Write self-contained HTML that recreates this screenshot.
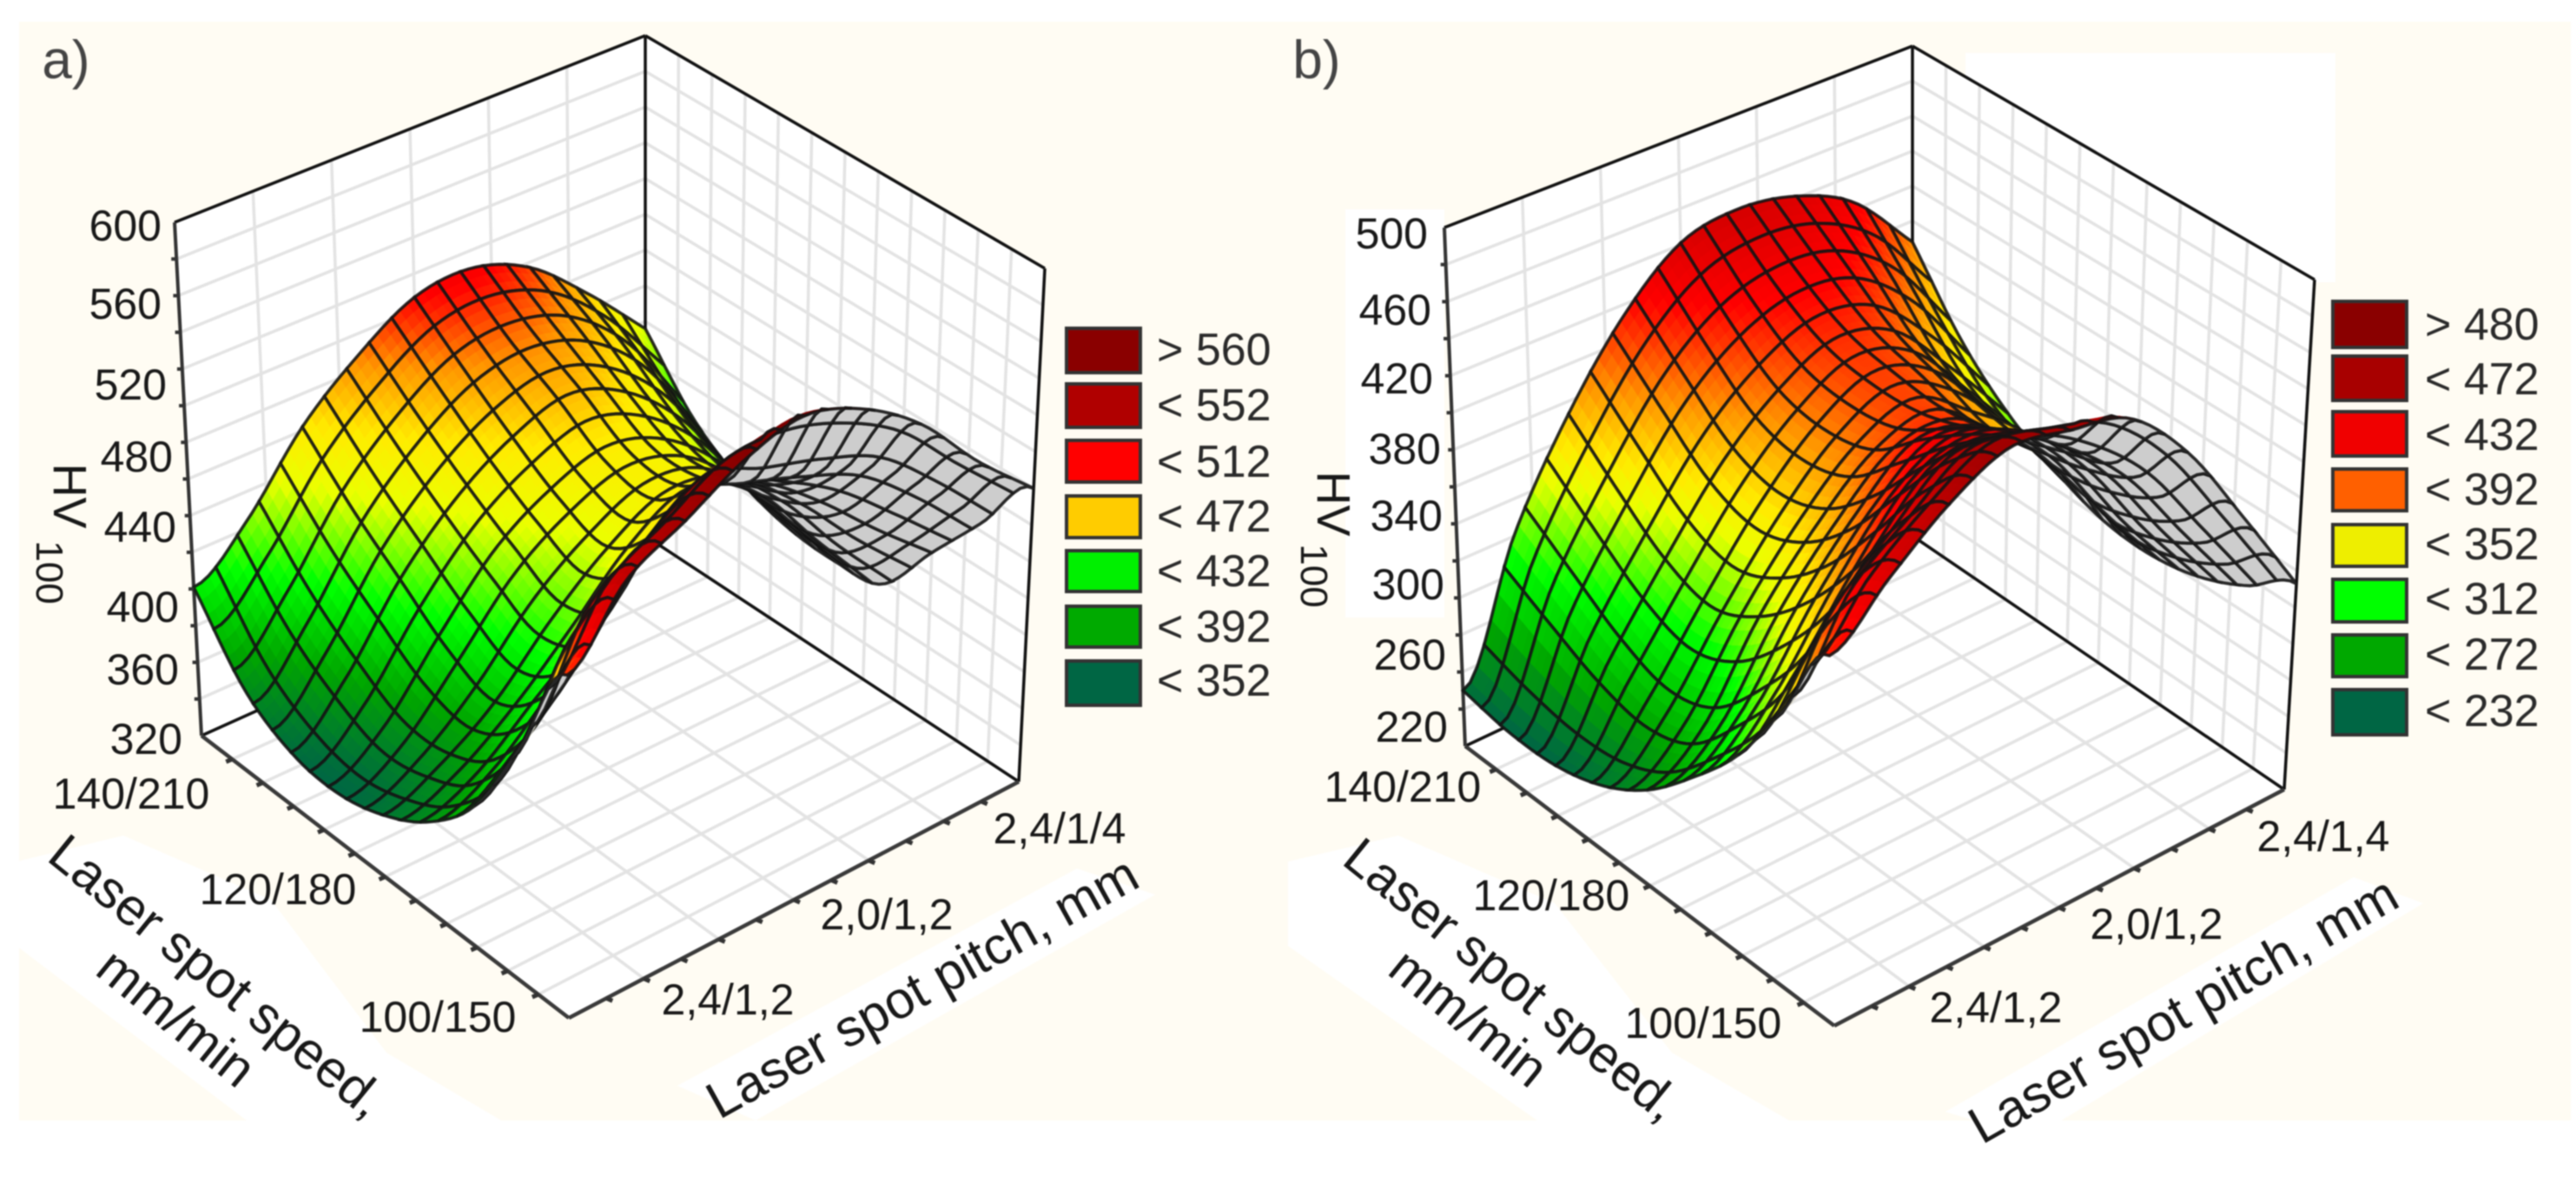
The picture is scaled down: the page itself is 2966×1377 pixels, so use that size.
<!DOCTYPE html>
<html>
<head>
<meta charset="utf-8">
<title>HV100 response surfaces</title>
<style>
html,body{margin:0;padding:0;background:#fff;width:2966px;height:1377px;overflow:hidden}
svg{display:block;filter:blur(0.9px)}
text{font-family:"Liberation Sans",sans-serif;fill:#181818}
.tick{font-size:50px}
.leg{font-size:52px;fill:#2a2a2a}
.title{font-size:60px;text-anchor:middle}
.sw{stroke:#333;stroke-width:4}
</style>
</head>
<body>
<svg xmlns="http://www.w3.org/2000/svg" width="2966" height="1377" viewBox="0 0 2966 1377">
  <g>
    <rect x="22" y="25" width="2938" height="1265" fill="#fffcf3"/>
    <polygon points="19,992 142,962 312,1036 445,1212 577,1290 284,1290 19,1089" fill="#fff"/>
    <polygon points="780,1250 1240,1000 1330,1030 870,1290" fill="#fff"/>
    <polygon points="1483,992 1610,962 1790,1040 1925,1212 2060,1290 1770,1290 1483,1089" fill="#fff"/>
    <polygon points="2240,1280 2710,1010 2790,1040 2340,1310" fill="#fff"/>
    <rect x="1549" y="241" width="114" height="470" fill="#fff"/>
    <rect x="2263" y="61" width="426" height="264" fill="#fff"/>
  </g>
  <g id="plot-a"></g>
  <g id="plot-b"></g>

  <g>
    <text x="76" y="90" style="font-size:62px;fill:#444" text-anchor="middle">a)</text>
    <g class="tick" text-anchor="end">
      <text x="186" y="277">600</text>
      <text x="186" y="367">560</text>
      <text x="192" y="460">520</text>
      <text x="199" y="543">480</text>
      <text x="203" y="624">440</text>
      <text x="206" y="716">400</text>
      <text x="206" y="788">360</text>
      <text x="210" y="868">320</text>
    </g>
    <g class="tick" text-anchor="middle">
      <text x="151" y="931">140/210</text>
      <text x="320" y="1041">120/180</text>
      <text x="504" y="1188">100/150</text>
      <text x="838" y="1168">2,4/1,2</text>
      <text x="1021" y="1070">2,0/1,2</text>
      <text x="1220" y="971">2,4/1/4</text>
    </g>
    <text class="title" transform="translate(250,1124) rotate(39)" y="20">Laser spot speed,</text>
    <text class="title" transform="translate(203,1172) rotate(39)" y="20">mm/min</text>
    <text class="title" transform="translate(1062,1137) rotate(-29)" y="20">Laser spot pitch, mm</text>
    <text transform="translate(62,571) rotate(90)" text-anchor="middle" style="font-size:54px">HV</text>
    <text transform="translate(42,659) rotate(90)" text-anchor="middle" style="font-size:44px">100</text>
  </g>
  <g>
    <rect class="sw" x="1228" y="378" width="85" height="51" fill="#8a0000"/>
    <rect class="sw" x="1228" y="442" width="85" height="50" fill="#b00000"/>
    <rect class="sw" x="1228" y="507" width="85" height="48" fill="#ff0000"/>
    <rect class="sw" x="1228" y="571" width="85" height="48" fill="#ffcc00"/>
    <rect class="sw" x="1228" y="634" width="85" height="47" fill="#00f000"/>
    <rect class="sw" x="1228" y="698" width="85" height="47" fill="#00aa00"/>
    <rect class="sw" x="1228" y="761" width="85" height="51" fill="#006644"/>
    <text class="leg" x="1332" y="420">&gt; 560</text>
    <text class="leg" x="1332" y="484">&lt; 552</text>
    <text class="leg" x="1332" y="549">&lt; 512</text>
    <text class="leg" x="1332" y="612">&lt; 472</text>
    <text class="leg" x="1332" y="675">&lt; 432</text>
    <text class="leg" x="1332" y="739">&lt; 392</text>
    <text class="leg" x="1332" y="801">&lt; 352</text>
  </g>

  <g>
    <text x="1516" y="90" style="font-size:62px;fill:#444" text-anchor="middle">b)</text>
    <g class="tick" text-anchor="end">
      <text x="1644" y="286">500</text>
      <text x="1648" y="374">460</text>
      <text x="1650" y="453">420</text>
      <text x="1659" y="534">380</text>
      <text x="1661" y="611">340</text>
      <text x="1663" y="690">300</text>
      <text x="1665" y="771">260</text>
      <text x="1667" y="854">220</text>
    </g>
    <g class="tick" text-anchor="middle">
      <text x="1615" y="923">140/210</text>
      <text x="1786" y="1048">120/180</text>
      <text x="1961" y="1195">100/150</text>
      <text x="2298" y="1177">2,4/1,2</text>
      <text x="2483" y="1081">2,0/1,2</text>
      <text x="2675" y="980">2,4/1,4</text>
    </g>
    <text class="title" transform="translate(1741,1128) rotate(39)" y="20">Laser spot speed,</text>
    <text class="title" transform="translate(1691,1172) rotate(39)" y="20">mm/min</text>
    <text class="title" transform="translate(2514,1163) rotate(-29.7)" y="20">Laser spot pitch, mm</text>
    <text transform="translate(1517,580) rotate(90)" text-anchor="middle" style="font-size:54px">HV</text>
    <text transform="translate(1498,663) rotate(90)" text-anchor="middle" style="font-size:44px">100</text>
  </g>
  <g>
    <rect class="sw" x="2686" y="347" width="85" height="53" fill="#8a0000"/>
    <rect class="sw" x="2686" y="410" width="85" height="51" fill="#a80000"/>
    <rect class="sw" x="2686" y="474" width="85" height="51" fill="#f00000"/>
    <rect class="sw" x="2686" y="540" width="85" height="48" fill="#ff6000"/>
    <rect class="sw" x="2686" y="604" width="85" height="48" fill="#eeee00"/>
    <rect class="sw" x="2686" y="667" width="85" height="49" fill="#00ff00"/>
    <rect class="sw" x="2686" y="731" width="85" height="48" fill="#00a800"/>
    <rect class="sw" x="2686" y="794" width="85" height="52" fill="#006644"/>
    <text class="leg" x="2792" y="391">&gt; 480</text>
    <text class="leg" x="2792" y="454">&lt; 472</text>
    <text class="leg" x="2792" y="518">&lt; 432</text>
    <text class="leg" x="2792" y="581">&lt; 392</text>
    <text class="leg" x="2792" y="644">&lt; 352</text>
    <text class="leg" x="2792" y="707">&lt; 312</text>
    <text class="leg" x="2792" y="771">&lt; 272</text>
    <text class="leg" x="2792" y="836">&lt; 232</text>
  </g>
</svg>
<script>
// HV100. Rows: speed from 100/150 to 140/210. Columns: pitch, low to high.
const hvSurfaceA = [
  [500,535,552,570,579,568,545,510,480],
  [445,495,518,540,528,518,505,478,445],
  [395,420,450,490,510,495,470,440,412],
  [368,380,405,430,465,479,455,415,378],
  [353,365,385,415,440,456,449,415,374],
  [346,362,395,428,448,458,448,420,376],
  [349,375,415,445,465,475,462,432,385],
  [365,395,436,465,485,490,480,452,403],
  [401,425,462,488,507,510,497,469,436]
];
const hvSurfaceB = [
  [414,440,465,481,476,468,435,385,333],
  [368,412,438,462,456,435,405,360,315],
  [326,355,395,430,440,426,392,345,303],
  [296,318,360,395,420,412,385,340,298],
  [271,290,335,370,397,405,380,355,300],
  [255,282,322,360,390,405,390,353,310],
  [247,290,330,368,395,410,400,365,325],
  [246,305,350,390,415,425,420,395,350],
  [250,321,373,414,441,447,441,424,388]
];
const hvRangeA = [320,600];
const hvRangeB = [220,500];
const colorLevelsA = [345,375,405,440,462,485,507,545,575];
const colorLevelsB = [245,275,310,345,360,385,420,470,500];
const colorRamp = [[0,102,68],[0,165,0],[0,255,0],[235,255,0],[255,235,0],[255,150,0],[255,0,0],[176,0,0],[128,0,0]];

const SVGNS = 'http://www.w3.org/2000/svg';
const CELLS = 20, SUB = 3;

function makeAxes(c){
  function bil(a,b,d,e,x,y){ // a=front,b=right,d=left,e=back
    return [
      (1-x)*(1-y)*a[0]+x*(1-y)*b[0]+(1-x)*y*d[0]+x*y*e[0],
      (1-x)*(1-y)*a[1]+x*(1-y)*b[1]+(1-x)*y*d[1]+x*y*e[1]
    ];
  }
  return function(x,y,z){
    const f=bil(c.Ff,c.Rf,c.Lf,c.Bf,x,y), t=bil(c.Ft,c.Rt,c.Lt,c.Bt,x,y);
    return [f[0]+(t[0]-f[0])*z, f[1]+(t[1]-f[1])*z];
  };
}
function cr(p0,p1,p2,p3,t){
  return 0.5*((2*p1)+(p3-p0+3*p1-3*p2)*t*t*t+(2*p0-5*p1+4*p2-p3)*t*t+(p2-p0)*t);
}
function readHeight(M,u,v){
  const n=M.length-1, fu=u*n, fv=v*n;
  const iu=Math.min(n-1,Math.floor(fu)), iv=Math.min(n-1,Math.floor(fv));
  const tu=fu-iu, tv=fv-iv;
  const at=(r,q)=>{
    const rr=Math.max(0,Math.min(n,r)), qq=Math.max(0,Math.min(n,q));
    return M[rr][qq]+(r-rr)*(M[rr][qq]-M[Math.max(0,Math.min(n,rr-(r-rr)))][qq])+(q-qq)*(M[rr][qq]-M[rr][Math.max(0,Math.min(n,qq-(q-qq)))]);
  };
  const row=[];
  for(let r=-1;r<=2;r++){
    row.push(cr(at(iv+r,iu-1),at(iv+r,iu),at(iv+r,iu+1),at(iv+r,iu+2),tu));
  }
  return cr(row[0],row[1],row[2],row[3],tv);
}
function colorFor(h,levels){
  if(h<=levels[0]) return 'rgb('+colorRamp[0].join(',')+')';
  for(let i=1;i<levels.length;i++){
    if(h<levels[i]){
      const t=(h-levels[i-1])/(levels[i]-levels[i-1]);
      const a=colorRamp[i-1], b=colorRamp[i];
      return 'rgb('+Math.round(a[0]+(b[0]-a[0])*t)+','+Math.round(a[1]+(b[1]-a[1])*t)+','+Math.round(a[2]+(b[2]-a[2])*t)+')';
    }
  }
  return 'rgb('+colorRamp[colorRamp.length-1].join(',')+')';
}
function line(g,a,b,col,w,name){
  const el=document.createElementNS(SVGNS,'line');
  el.setAttribute('x1',a[0].toFixed(1));
  el.setAttribute('y1',a[1].toFixed(1));
  el.setAttribute('x2',b[0].toFixed(1));
  el.setAttribute('y2',b[1].toFixed(1));
  el.setAttribute('stroke',col);
  el.setAttribute('stroke-width',w);
  
  
  g.appendChild(el);
}
function area(pts){
  let s=0;
  for(let i=0;i<pts.length;i++){
    const a=pts[i], b=pts[(i+1)%pts.length];
    s+=a[0]*b[1]-b[0]*a[1];
  }
  return s;
}
function ptsStr(pts){ return pts.map(p=>p[0].toFixed(1)+','+p[1].toFixed(1)).join(' '); }

function drawPlot(id,c,M,range,levels){
  const g=document.getElementById(id);
  const P=makeAxes(c);
  const zn=h=>(h-range[0])/(range[1]-range[0]);

  // Box interior
  const box=document.createElementNS(SVGNS,'polygon');
  box.setAttribute('points',ptsStr([c.Lt,c.Bt,c.Rt,c.Rf,c.Ff,c.Lf]));
  box.setAttribute('fill','#fff');
  
  
  g.appendChild(box);

  // Gridlines
  const gc='#e3e3e3', gw=3.5;
  for(let k=1;k<6;k++){ line(g,P(k/6,1,0),P(k/6,1,1),gc,gw,'left-wall-gridline'); line(g,P(k/6,0,0),P(k/6,1,0),gc,gw,'floor-gridline'); }
  for(let k=1;k<12;k++){ line(g,P(1,k/12,0),P(1,k/12,1),gc,gw,'right-wall-gridline'); line(g,P(0,k/12,0),P(1,k/12,0),gc,gw,'floor-gridline'); }
  for(let k=1;k<14;k++){ line(g,P(0,1,k/14),P(1,1,k/14),gc,gw,'left-wall-gridline'); line(g,P(1,1,k/14),P(1,0,k/14),gc,gw,'right-wall-gridline'); }

  // Back frame
  line(g,P(0,1,1),P(1,1,1),'#111',3.5,'frame-top-left');
  line(g,P(1,1,1),P(1,0,1),'#111',3.5,'frame-top-right');
  line(g,P(1,1,1),P(1,1,0),'#111',3.5,'frame-back-edge');
  line(g,P(1,0,1),P(1,0,0),'#111',3.5,'frame-right-edge');
  line(g,P(1,1,0),P(1,0,0),'#111',3.5,'frame-floor-right');
  line(g,P(0,1,0),P(1,1,0),'#111',3.5,'frame-floor-left');
  line(g,P(0,1,1),P(0,1,0),'#333',4,'z-axis-line');

  // Surface, far cells first
  const step=1/CELLS, sub=step/SUB;
  const node=(x,y)=>P(x,y,zn(readHeight(M,x,y)));
  const floorSign=Math.sign(area([P(0,0,0),P(1,0,0),P(1,1,0),P(0,1,0)]));
  for(let i=CELLS-1;i>=0;i--){
    for(let j=CELLS-1;j>=0;j--){
      for(let a=SUB-1;a>=0;a--){
        for(let b=SUB-1;b>=0;b--){
          const x0=i*step+a*sub, x1=x0+sub, y0=j*step+b*sub, y1=y0+sub;
          const q=[node(x0,y0),node(x1,y0),node(x1,y1),node(x0,y1)];
          const facing=Math.sign(area(q))===floorSign;
          const col=facing?colorFor(readHeight(M,x0+sub/2,y0+sub/2),levels):'#cdcdcd';
          const el=document.createElementNS(SVGNS,'polygon');
          el.setAttribute('points',ptsStr(q));
          el.setAttribute('fill',col);
          el.setAttribute('stroke',col);
          el.setAttribute('stroke-width','0.8');
          
          
          g.appendChild(el);
        }
      }
      // Cell outline
      const outline=[];
      const x0=i*step, y0=j*step;
      for(let s=0;s<SUB;s++) outline.push(node(x0+s*sub,y0));
      for(let s=0;s<SUB;s++) outline.push(node(x0+step,y0+s*sub));
      for(let s=0;s<SUB;s++) outline.push(node(x0+step-s*sub,y0+step));
      for(let s=0;s<SUB;s++) outline.push(node(x0,y0+step-s*sub));
      const cell=document.createElementNS(SVGNS,'polygon');
      cell.setAttribute('points',ptsStr(outline));
      cell.setAttribute('fill','none');
      cell.setAttribute('stroke','#141414');
      cell.setAttribute('stroke-width','3.6');
      cell.setAttribute('stroke-opacity','0.9');
      
      
      g.appendChild(cell);
    }
  }

  // Front edges and ticks
  line(g,P(0,1,0),P(0,0,0),'#3a3a3a',4.5,'speed-axis-line');
  line(g,P(0,0,0),P(1,0,0),'#3a3a3a',4.5,'pitch-axis-line');
  for(let k=1;k<12;k++){
    line(g,P(0,k/12,0),[P(0,k/12,0)[0]-7,P(0,k/12,0)[1]+3],'#333',5,'speed-axis-tick');
    line(g,P(k/12,0,0),[P(k/12,0,0)[0]+7,P(k/12,0,0)[1]+3],'#333',5,'pitch-axis-tick');
  }
  for(let k=1;k<14;k++){
    line(g,P(0,1,k/14),[P(0,1,k/14)[0]-6,P(0,1,k/14)[1]],'#333',4,'z-axis-tick');
  }
}

const cornersA={Ff:[655,1172],Lf:[232,847],Bf:[743,617],Rf:[1173,900],Ft:[652,558],Lt:[201,256],Bt:[743,41],Rt:[1203,309]};
const cornersB={Ff:[2112,1181],Lf:[1687,859],Bf:[2202,617],Rf:[2630,909],Ft:[2104,566],Lt:[1663,262],Bt:[2202,53],Rt:[2665,322]};
drawPlot('plot-a',cornersA,hvSurfaceA,hvRangeA,colorLevelsA);
drawPlot('plot-b',cornersB,hvSurfaceB,hvRangeB,colorLevelsB);
</script>
</body>
</html>
